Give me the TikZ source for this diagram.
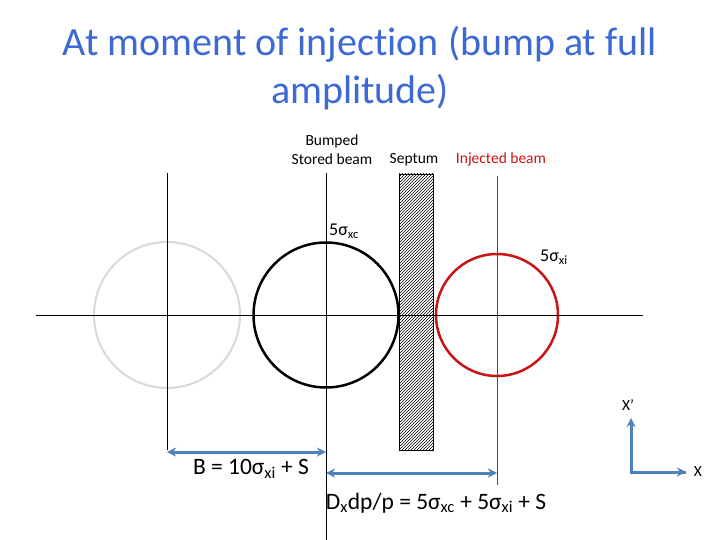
\documentclass[tikz,border=0pt]{standalone}
\usepackage{fontspec}
\setmainfont{Carlito}[Ligatures=NoCommon]
\usetikzlibrary{calc, arrows, patterns, positioning}
\definecolor{titleblue}{RGB}{61,105,212}
\definecolor{arrowblue}{RGB}{79,129,189}
\definecolor{injred}{RGB}{200,20,20}
\definecolor{ghost}{RGB}{217,217,217}
\tikzstyle{beam} = [circle, 
draw, 
inner sep=0pt, 
line width=2.5pt]
\tikzstyle{axisline} = [draw=black, line width=0.8pt]
\tikzstyle{tag} = [inner sep=1pt, font=\fontsize{15.5}{19}\selectfont]
\tikzstyle{sigtag} = [inner sep=1pt, anchor=west, font=\fontsize{18}{20}\selectfont]
\tikzstyle{gaptag} = [inner sep=1pt, font=\fontsize{23.5}{26}\selectfont]
\tikzstyle{dim} = [line width=3pt, <->, >=stealth, draw=arrowblue]

\begin{document}
\begin{tikzpicture}[x=1pt, y=-1pt]
    \useasboundingbox (0,0) rectangle (720,540);
    \node (title) at (360,68) [align=center, text=titleblue, font=\fontsize{40}{48}\selectfont] {At moment of injection (bump at full\\amplitude)};

    % beams in phase space
    \node (ghostbeam) at (167,315) [beam, draw=ghost, line width=2pt, minimum size=146pt] {};
    \node (storedbeam) at (326,315) [beam, minimum size=145pt] {};
    \node (injbeam) at (497,315) [beam, draw=injred, minimum size=122pt] {};
    \node (septum) at (416,312) [draw, pattern=north east lines, minimum width=34pt, minimum height=276pt, inner sep=0pt] {};

    \coordinate (h-left) at (36,315);
    \coordinate (h-right) at (643,315);
    \coordinate (ghost-top) at (167,173);
    \coordinate (ghost-bot) at (167,450);
    \coordinate (stored-top) at (326,173);
    \coordinate (stored-bot) at (326,540);
    \coordinate (inj-top) at (497,176);
    \coordinate (inj-bot) at (497,485);
    \draw [axisline] (h-left) -- (h-right);
    \draw [axisline] (ghost-top) -- (ghost-bot);
    \draw [axisline] (stored-top) -- (stored-bot);
    \draw [draw=injred, line width=0.8pt] (inj-top) -- (inj-bot);

    \node (storedtag) at (332,150) [tag, align=center] {Bumped\\Stored beam};
    \node (septumtag) at (414,160) [tag] {Septum};
    \node (injtag) at (501,159) [tag, text=injred] {Injected beam};
    \node (sigc) at (328,231) [sigtag] {5σ\textsubscript{xc}};
    \node (sigi) at (539,257) [sigtag] {5σ\textsubscript{xi}};

    % apertures
    \coordinate (b-left) at (167,452);
    \coordinate (b-right) at (326,452);
    \coordinate (d-left) at (326,473);
    \coordinate (d-right) at (497,473);
    \draw [dim] (b-left) -- (b-right);
    \draw [dim] (d-left) -- (d-right);
    \node (bgap) at (251,469) [gaptag] {B = 10σ\textsubscript{xi} + S};
    \node (dgap) at (436,503) [gaptag] {D\textsubscript{x}dp/p = 5σ\textsubscript{xc} + 5σ\textsubscript{xi} + S};

    % x, x' axes
    \coordinate (origin) at (631,472);
    \coordinate (xp-tip) at (631,418);
    \coordinate (x-tip) at (686,472);
    \draw [dim, <-] (xp-tip) -- (origin) -- (x-tip);
    \draw [dim, ->] (origin) -- (x-tip);
    \node (xptag) at (628,405) [tag] {X’};
    \node (xtag) at (698,472) [tag] {X};
\end{tikzpicture}
\end{document}
